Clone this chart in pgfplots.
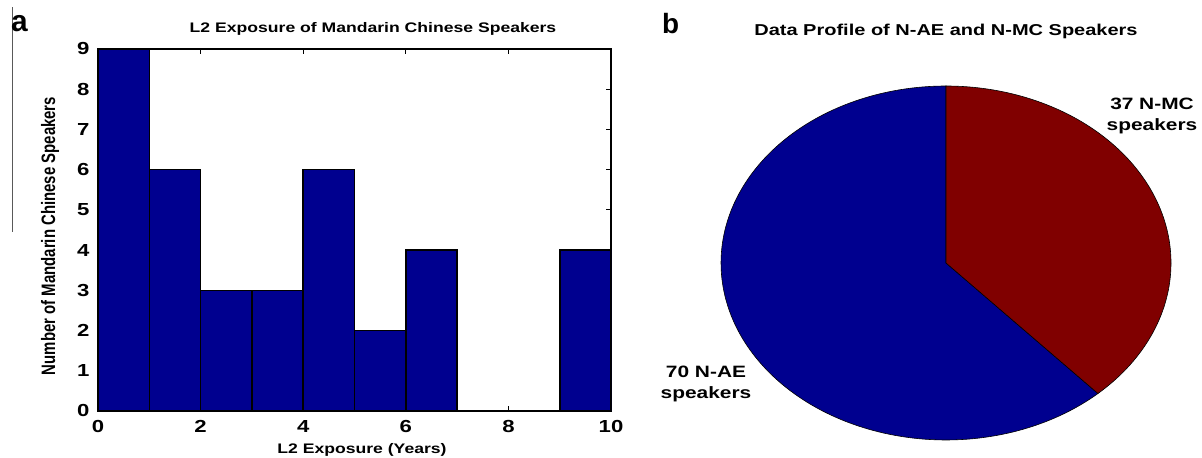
\documentclass[border=0pt]{standalone}
\usepackage{fontspec}
\setmainfont{Liberation Sans}[FakeStretch=1.27]
\newfontfamily\plainsans{Liberation Sans}
\usepackage{graphicx}
\usepackage{pgfplots}
\pgfplotsset{compat=1.18}
\usepackage{pgfplotstable}
\definecolor{mblue}{RGB}{0,0,143}
\definecolor{mred}{RGB}{128,0,0}

% histogram: left bin edge, count (last row closes the interval)
\pgfplotstableread{
x count
0 9
1 6
2 3
3 3
4 6
5 2
6 4
7 0
8 0
9 4
10 4
}\histdata

% pie: count (label) and share of the circle as drawn (percent)
\pgfplotstableread{
group count share
N-MC 37 38.2
N-AE 70 61.8
}\piedata

\pgfplotstablegetelem{0}{share}\of\piedata
\let\redshare\pgfplotsretval
\pgfmathsetmacro\splitang{90-3.6*\redshare}

\begin{document}
\begin{tikzpicture}[x=1bp,y=1bp]
\path[use as bounding box] (0,0) rectangle (1202,458);
\draw[gray!70!black, line width=0.7bp] (12,226) -- (12,451);
\node[anchor=base west, inner sep=0, font=\plainsans\bfseries\fontsize{30}{30}\selectfont] at (11,426) {a};
\node[anchor=base west, inner sep=0, font=\plainsans\bfseries\fontsize{28}{28}\selectfont] at (662,424) {b};

\begin{axis}[
  at={(98bp,47bp)}, anchor=south west, scale only axis,
  width=513bp, height=362bp,
  xmin=0, xmax=10, ymin=0, ymax=9,
  xtick={0,2,...,10}, ytick={0,1,...,9},
  tick align=inside, major tick length=5bp,
  axis line style={line width=1.3bp},
  every tick/.style={black, line width=1.1bp},
  /pgf/number format/assume math mode=true,
  tick label style={font=\bfseries\fontsize{17.5}{17.5}\selectfont},
  xticklabel style={yshift=-6bp},
  yticklabel style={xshift=-5bp},
]
\addplot[ybar interval, fill=mblue, draw=black, line width=1.6bp] table[x=x, y=count] {\histdata};
\end{axis}

\node[anchor=base, inner sep=0, font=\bfseries\fontsize{13.9}{13.9}\selectfont] at (373,425) {L2 Exposure of Mandarin Chinese Speakers};
\node[anchor=base, inner sep=0, font=\bfseries\fontsize{13.9}{13.9}\selectfont] at (362,4) {L2 Exposure (Years)};
\node[rotate=90, anchor=center, inner sep=0, font=\plainsans\bfseries\fontsize{15}{15}\selectfont] at (50,222) {\scalebox{1}[1.3]{Number of Mandarin Chinese Speakers}};

\begin{axis}[
  at={(721bp,18bp)}, anchor=south west, scale only axis,
  width=450bp, height=354bp,
  xmin=-1, xmax=1, ymin=-1, ymax=1,
  hide axis, clip=false,
]
\fill[mblue, draw=black, line width=0.6bp] (axis cs:0,0) -- plot[domain=\splitang:-270, samples=150] ({cos(\x)},{sin(\x)}) -- cycle;
\fill[mred, draw=black, line width=0.6bp] (axis cs:0,0) -- plot[domain=90:\splitang, samples=100] ({cos(\x)},{sin(\x)}) -- cycle;
\end{axis}

\node[anchor=base, inner sep=0, font=\bfseries\fontsize{15.8}{15.8}\selectfont] at (946,422) {Data Profile of N-AE and N-MC Speakers};
\node[anchor=base, inner sep=0, font=\bfseries\fontsize{16.5}{16.5}\selectfont] at (1152,348) {37 N-MC};
\node[anchor=base, inner sep=0, font=\bfseries\fontsize{16.5}{16.5}\selectfont] at (1152,327) {speakers};
\node[anchor=base, inner sep=0, font=\bfseries\fontsize{16.5}{16.5}\selectfont] at (706,80) {70 N-AE};
\node[anchor=base, inner sep=0, font=\bfseries\fontsize{16.5}{16.5}\selectfont] at (706,59) {speakers};
\end{tikzpicture}
\end{document}
